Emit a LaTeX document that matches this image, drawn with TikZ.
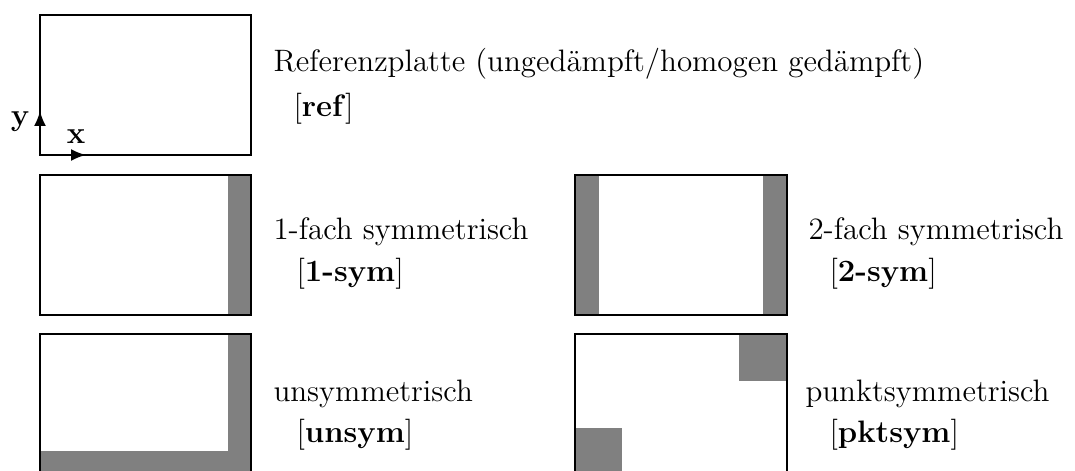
\documentclass[tikz,border=0pt]{standalone}
\usetikzlibrary{arrows.meta}
\begin{document}
\begin{tikzpicture}[x=0.4pt,y=-0.4pt,
  plate/.style={draw=black,line width=0.8pt},
  damp/.style={fill=black!50},
  axis/.style={line width=0.8pt,-{Latex[length=6pt,width=4.8pt]}},
  lbl/.style={anchor=base west,inner sep=0pt,font=\fontsize{12.4}{15}\selectfont}]
\useasboundingbox (0,0) rectangle (1075,471);
\clip (0,0) rectangle (1075,471);

% reference plate
\coordinate (o) at (40,155);
\draw[plate] (40,15) rectangle (251,155);
\coordinate (ytip) at (40,111);
\coordinate (xtip) at (86,155);
\draw[axis] (o) -- (ytip);
\draw[axis] (o) -- (xtip);
\node[lbl,anchor=base] (ylab) at (20,126) {\textbf{y}};
\node[lbl,anchor=base] (xlab) at (76,144) {\textbf{x}};
\node[lbl] (refA) at (273,72) {Referenzplatte (ungedämpft/homogen gedämpft)};
\node[lbl] (refB) at (293,117) {[\textbf{ref}]};

% one-sided damping strip
\fill[damp] (228,175) rectangle (251,315);
\draw[plate] (40,175) rectangle (251,315);
\node[lbl] (symA) at (273,240) {1-fach symmetrisch};
\node[lbl] (symB) at (296,282) {[\textbf{1-sym}]};

% two-sided damping strips
\fill[damp] (575,175) rectangle (599,315);
\fill[damp] (763,175) rectangle (787,315);
\draw[plate] (575,175) rectangle (787,315);
\node[lbl] (twoA) at (808,240) {2-fach symmetrisch};
\node[lbl] (twoB) at (829,282) {[\textbf{2-sym}]};

% unsymmetric L-shaped damping
\fill[damp] (228,334) rectangle (251,474);
\fill[damp] (40,451) rectangle (251,474);
\draw[plate] (40,334) rectangle (251,474);
\node[lbl] (unA) at (273,402) {unsymmetrisch};
\node[lbl] (unB) at (296,443) {[\textbf{unsym}]};

% point-symmetric corner patches
\fill[damp] (739,334) rectangle (787,381);
\fill[damp] (575,428) rectangle (622,474);
\draw[plate] (575,334) rectangle (787,474);
\node[lbl] (ptA) at (805,402) {punktsymmetrisch};
\node[lbl] (ptB) at (829,443) {[\textbf{pktsym}]};
\end{tikzpicture}
\end{document}
